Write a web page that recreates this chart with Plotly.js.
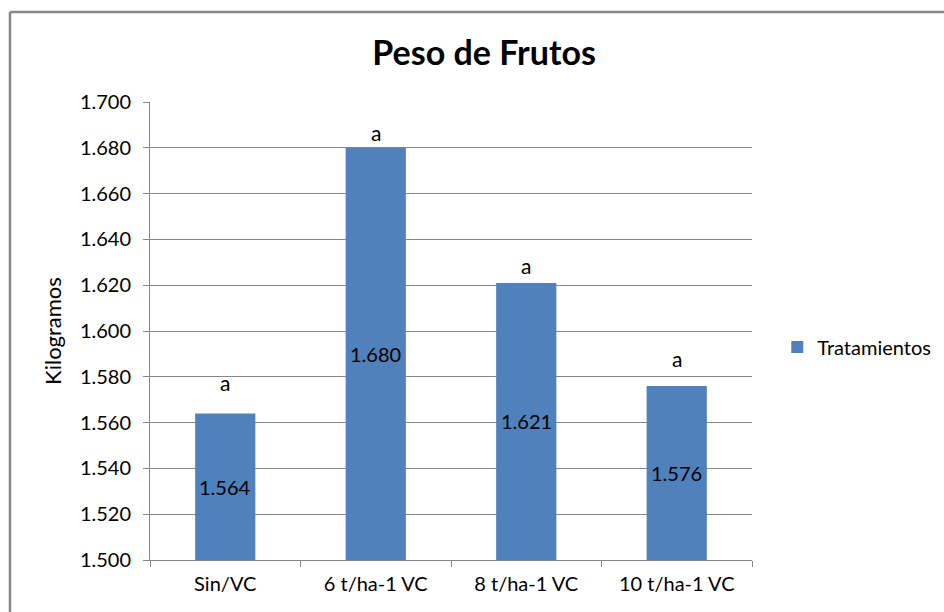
<!DOCTYPE html>
<html>
<head>
<meta charset="utf-8">
<script src="https://cdn.plot.ly/plotly-3.0.1.min.js"></script>
<style>html,body{margin:0;padding:0;background:#fff;}#chart{width:944px;height:612px;}</style>
</head>
<body>
<div id="chart"></div>
<script>
const categories = ["Sin/VC", "6 t/ha-1 VC", "8 t/ha-1 VC", "10 t/ha-1 VC"];
const values = [1.564, 1.680, 1.621, 1.576];
const valueLabels = ["1.564", "1.680", "1.621", "1.576"];
const letters = ["a", "a", "a", "a"];
const letterY = [1.5773, 1.6869, 1.6288, 1.5882];
const yTickVals = [1.50, 1.52, 1.54, 1.56, 1.58, 1.60, 1.62, 1.64, 1.66, 1.68, 1.70];
const yTickText = ["1.500", "1.520", "1.540", "1.560", "1.580", "1.600", "1.620", "1.640", "1.660", "1.680", "1.700"];
const yMin = 1.5, yMax = 1.7;

const FONT = "Lato, 'Open Sans', sans-serif";

const trace = {
  type: "bar",
  x: categories,
  y: values,
  name: "Tratamientos",
  marker: {color: "#4f81bd"},
  width: 0.4,
  hoverinfo: "skip"
};

const letterAnns = categories.map((c, i) => ({
  x: c, y: letterY[i], xref: "x", yref: "y",
  text: letters[i], showarrow: false,
  font: {family: FONT, size: 21, color: "#000"}
}));
const valueAnns = categories.map((c, i) => ({
  x: c, y: (values[i] + yMin) / 2, xref: "x", yref: "y",
  text: valueLabels[i], showarrow: false,
  font: {family: FONT, size: 20, color: "#000"}
}));

const layout = {
  width: 944, height: 612,
  margin: {l: 150, r: 192, t: 102, b: 52, autoexpand: false},
  paper_bgcolor: "rgba(0,0,0,0)",
  plot_bgcolor: "rgba(0,0,0,0)",
  title: {text: "<b>Peso de Frutos</b>", x: 0.555, xref: "paper", xanchor: "center", y: 0.913, yanchor: "middle",
          font: {family: FONT, size: 34, color: "#000"}},
  xaxis: {
    type: "category",
    tickson: "boundaries",
    ticks: "outside", ticklen: 6, tickcolor: "#868686",
    showline: true, linecolor: "#868686", linewidth: 1,
    showgrid: false,
    ticklabelstandoff: 6,
    tickfont: {family: FONT, size: 20, color: "#000"},
    fixedrange: true
  },
  yaxis: {
    range: [yMin, yMax],
    tickvals: yTickVals, ticktext: yTickText,
    ticks: "outside", ticklen: 6, tickcolor: "#868686",
    showline: true, linecolor: "#868686", linewidth: 1,
    showgrid: true, gridcolor: "#868686", gridwidth: 1,
    zeroline: false,
    ticklabelstandoff: 8,
    tickfont: {family: FONT, size: 20, color: "#000"},
    title: {text: "Kilogramos", font: {family: FONT, size: 22, color: "#000"}, standoff: 12},
    fixedrange: true
  },
  showlegend: true,
  legend: {x: 1.042, xanchor: "left", y: 0.465, yanchor: "middle",
           font: {family: FONT, size: 20, color: "#000"},
           itemwidth: 30, bgcolor: "rgba(0,0,0,0)"},
  annotations: letterAnns.concat(valueAnns),
  shapes: [
    {type: "line", xref: "paper", yref: "paper", x0: -0.2326, x1: -0.2326, y0: 1.1965, y1: -0.2, line: {color: "#878787", width: 2.5}},
    {type: "line", xref: "paper", yref: "paper", x0: -0.2326, x1: 1.4, y0: 1.1965, y1: 1.1965, line: {color: "#878787", width: 2.5}}
  ]
};

Plotly.newPlot("chart", [trace], layout, {displayModeBar: false, staticPlot: true});
</script>
</body>
</html>
